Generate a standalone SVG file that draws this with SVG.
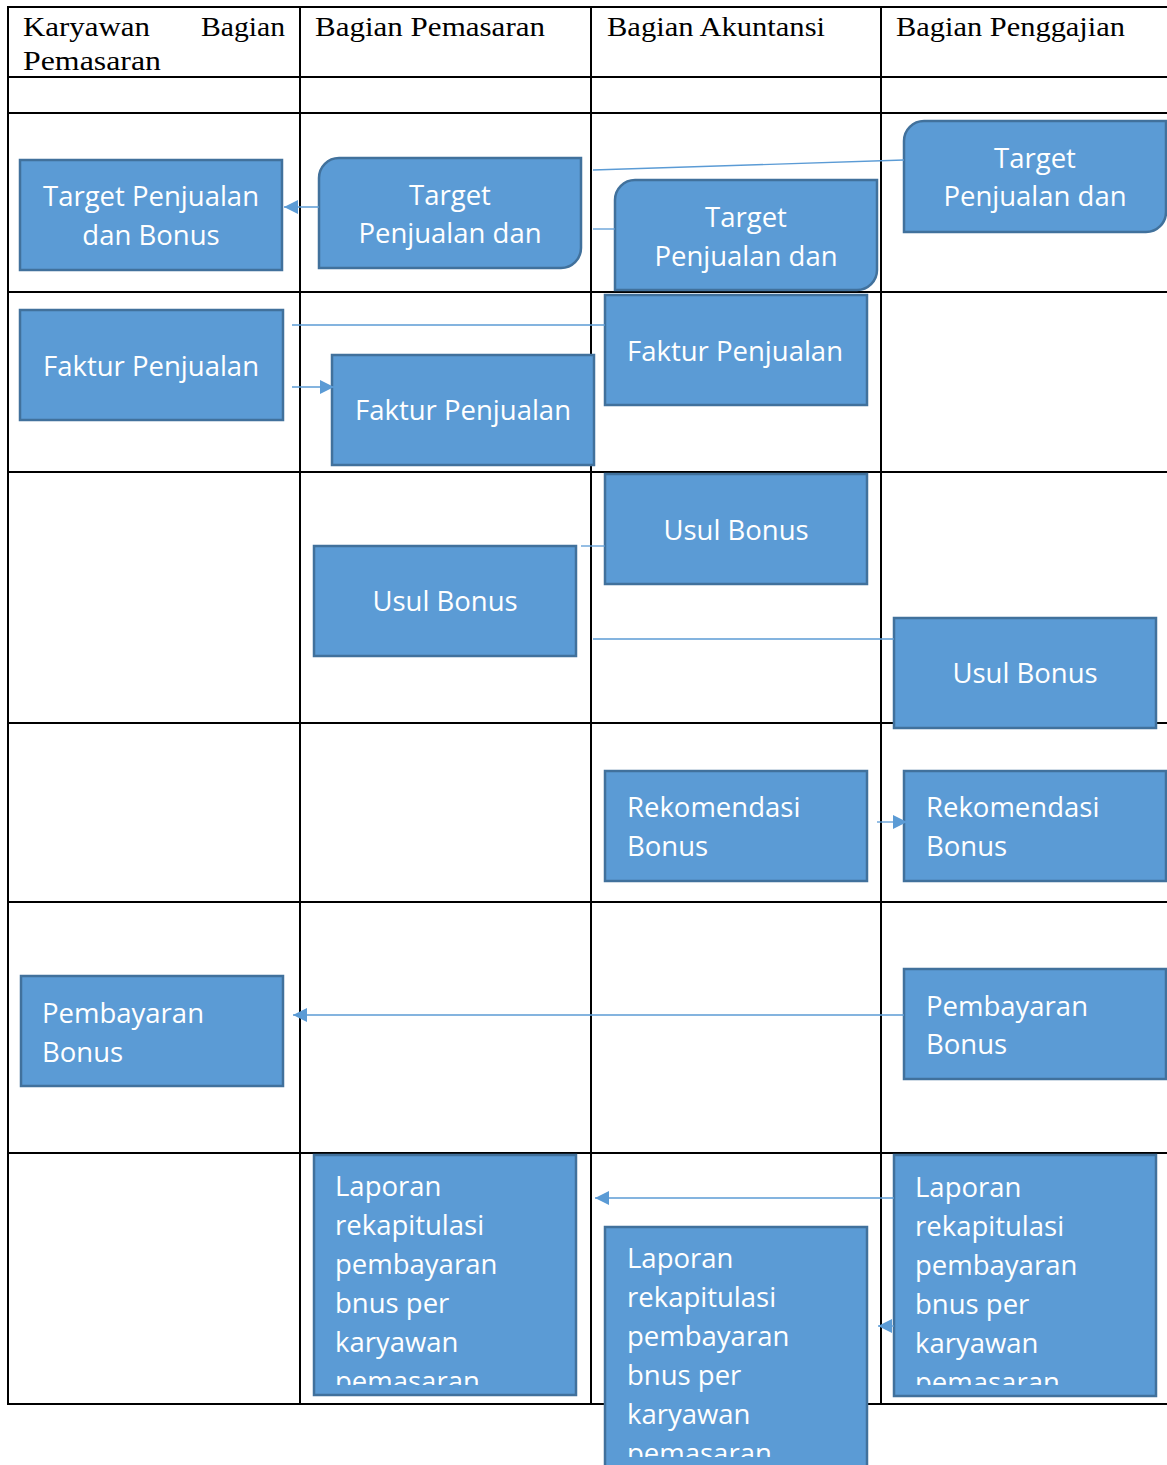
<svg xmlns="http://www.w3.org/2000/svg" width="1167" height="1465" viewBox="0 0 1167 1465">
<style>
.grid{stroke:#000;stroke-width:2;fill:none}
.hd{font-family:"Liberation Serif",serif;font-size:27px;fill:#000}
.box{fill:#5B9BD5;stroke:#41719C;stroke-width:2.5}
.t{font-family:"Open Sans","Noto Sans",sans-serif;font-size:27.5px;fill:#fff}
.c{text-anchor:middle}
.ln{stroke:#5B9BD5;stroke-width:1.3;fill:none}
</style>
<defs>
<marker id="ah" viewBox="0 0 10 10" refX="10" refY="5" markerWidth="14" markerHeight="14" markerUnits="userSpaceOnUse" orient="auto">
<path d="M0,0 L10,5 L0,10 z" fill="#5B9BD5"/>
</marker>
<clipPath id="cl15"><rect x="314" y="1155" width="262" height="230"/></clipPath>
<clipPath id="cl16"><rect x="605" y="1227" width="262" height="230"/></clipPath>
<clipPath id="cl17"><rect x="894" y="1155" width="262" height="230"/></clipPath>
</defs>
<rect width="1167" height="1465" fill="#fff"/>
<g id="table">
<line class="grid" x1="8" y1="7" x2="1167" y2="7"/>
<line class="grid" x1="8" y1="77" x2="1167" y2="77"/>
<line class="grid" x1="8" y1="113" x2="1167" y2="113"/>
<line class="grid" x1="8" y1="292" x2="1167" y2="292"/>
<line class="grid" x1="8" y1="472" x2="1167" y2="472"/>
<line class="grid" x1="8" y1="723" x2="1167" y2="723"/>
<line class="grid" x1="8" y1="902" x2="1167" y2="902"/>
<line class="grid" x1="8" y1="1153" x2="1167" y2="1153"/>
<line class="grid" x1="8" y1="1404" x2="1167" y2="1404"/>
<line class="grid" x1="8" y1="6" x2="8" y2="1405"/>
<line class="grid" x1="300" y1="6" x2="300" y2="1405"/>
<line class="grid" x1="591" y1="6" x2="591" y2="1405"/>
<line class="grid" x1="881" y1="6" x2="881" y2="1405"/>
<text class="hd" x="23" y="36" textLength="127" lengthAdjust="spacingAndGlyphs">Karyawan</text>
<text class="hd" x="201" y="36" textLength="84" lengthAdjust="spacingAndGlyphs">Bagian</text>
<text class="hd" x="23" y="70" textLength="138" lengthAdjust="spacingAndGlyphs">Pemasaran</text>
<text class="hd" x="315" y="36" textLength="230" lengthAdjust="spacingAndGlyphs">Bagian Pemasaran</text>
<text class="hd" x="607" y="36" textLength="218" lengthAdjust="spacingAndGlyphs">Bagian Akuntansi</text>
<text class="hd" x="896" y="36" textLength="229" lengthAdjust="spacingAndGlyphs">Bagian Penggajian</text>
</g>
<g id="n1"><rect class="box" x="20" y="160" width="262" height="110"/>
<text class="t c" x="151" y="206">Target Penjualan</text><text class="t c" x="151" y="245">dan Bonus</text></g>
<g id="n2"><path class="box" d="M339,158 H581 V248 A20,20 0 0 1 561,268 H319 V178 A20,20 0 0 1 339,158 Z"/>
<text class="t c" x="450" y="205">Target</text><text class="t c" x="450" y="243">Penjualan dan</text></g>
<g id="n3"><path class="box" d="M635,180 H877 V270 A20,20 0 0 1 857,290 H615 V200 A20,20 0 0 1 635,180 Z"/>
<text class="t c" x="746" y="227">Target</text><text class="t c" x="746" y="266">Penjualan dan</text></g>
<g id="n4"><path class="box" d="M924,121 H1166 V212 A20,20 0 0 1 1146,232 H904 V141 A20,20 0 0 1 924,121 Z"/>
<text class="t c" x="1035" y="168">Target</text><text class="t c" x="1035" y="206">Penjualan dan</text></g>
<g id="n5"><rect class="box" x="20" y="310" width="263" height="110"/>
<text class="t c" x="151" y="376">Faktur Penjualan</text></g>
<g id="n6"><rect class="box" x="332" y="355" width="262" height="110"/>
<text class="t c" x="463" y="420">Faktur Penjualan</text></g>
<g id="n7"><rect class="box" x="605" y="295" width="262" height="110"/>
<text class="t c" x="735" y="361">Faktur Penjualan</text></g>
<g id="n8"><rect class="box" x="605" y="474" width="262" height="110"/>
<text class="t c" x="736" y="540">Usul Bonus</text></g>
<g id="n9"><rect class="box" x="314" y="546" width="262" height="110"/>
<text class="t c" x="445" y="611">Usul Bonus</text></g>
<g id="n10"><rect class="box" x="894" y="618" width="262" height="110"/>
<text class="t c" x="1025" y="683">Usul Bonus</text></g>
<g id="n11"><rect class="box" x="605" y="771" width="262" height="110"/>
<text class="t" x="627" y="817">Rekomendasi</text><text class="t" x="627" y="856">Bonus</text></g>
<g id="n12"><rect class="box" x="904" y="771" width="262" height="110"/>
<text class="t" x="926" y="817">Rekomendasi</text><text class="t" x="926" y="856">Bonus</text></g>
<g id="n13"><rect class="box" x="21" y="976" width="262" height="110"/>
<text class="t" x="42" y="1023">Pembayaran</text><text class="t" x="42" y="1062">Bonus</text></g>
<g id="n14"><rect class="box" x="904" y="969" width="262" height="110"/>
<text class="t" x="926" y="1016">Pembayaran</text><text class="t" x="926" y="1054">Bonus</text></g>
<g id="n15"><rect class="box" x="314" y="1155" width="262" height="240"/>
<g clip-path="url(#cl15)">
<text class="t" x="335" y="1196">Laporan</text><text class="t" x="335" y="1235">rekapitulasi</text><text class="t" x="335" y="1274">pembayaran</text><text class="t" x="335" y="1313">bnus per</text><text class="t" x="335" y="1352">karyawan</text><text class="t" x="335" y="1391">pemasaran</text>
</g></g>
<g id="n16"><rect class="box" x="605" y="1227" width="262" height="250"/>
<g clip-path="url(#cl16)">
<text class="t" x="627" y="1268">Laporan</text><text class="t" x="627" y="1307">rekapitulasi</text><text class="t" x="627" y="1346">pembayaran</text><text class="t" x="627" y="1385">bnus per</text><text class="t" x="627" y="1424">karyawan</text><text class="t" x="627" y="1463">pemasaran</text>
</g></g>
<g id="n17"><rect class="box" x="894" y="1155" width="262" height="241"/>
<g clip-path="url(#cl17)">
<text class="t" x="915" y="1197">Laporan</text><text class="t" x="915" y="1236">rekapitulasi</text><text class="t" x="915" y="1275">pembayaran</text><text class="t" x="915" y="1314">bnus per</text><text class="t" x="915" y="1353">karyawan</text><text class="t" x="915" y="1392">pemasaran</text>
</g></g>
<g id="connectors">
<line class="ln" x1="319" y1="207" x2="284" y2="207" marker-end="url(#ah)"/>
<line class="ln" x1="593" y1="170" x2="904" y2="160"/>
<line class="ln" x1="593" y1="229" x2="615" y2="229"/>
<line class="ln" x1="292" y1="325" x2="605" y2="325"/>
<line class="ln" x1="292" y1="387" x2="334" y2="387" marker-end="url(#ah)"/>
<line class="ln" x1="581" y1="546" x2="605" y2="546"/>
<line class="ln" x1="593" y1="639" x2="894" y2="639"/>
<line class="ln" x1="877" y1="822" x2="907" y2="822" marker-end="url(#ah)"/>
<line class="ln" x1="904" y1="1015" x2="293" y2="1015" marker-end="url(#ah)"/>
<line class="ln" x1="894" y1="1198" x2="595" y2="1198" marker-end="url(#ah)"/>
<line class="ln" x1="894" y1="1326" x2="878" y2="1326" marker-end="url(#ah)"/>
</g>
</svg>
